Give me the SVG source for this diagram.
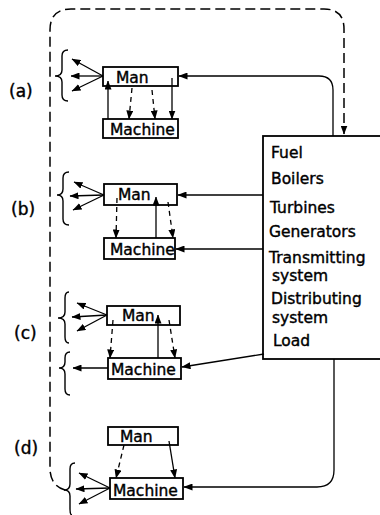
<svg xmlns="http://www.w3.org/2000/svg" width="380" height="515" viewBox="0 0 380 515">
<defs>
<marker id="ah" markerUnits="userSpaceOnUse" markerWidth="9" markerHeight="7" refX="8.5" refY="3.5" orient="auto">
<path d="M0,0 L9,3.5 L0,7 z" fill="#000"/>
</marker>
<style>
text{font-family:"DejaVu Sans","Liberation Sans",sans-serif;fill:#000;stroke:#000;stroke-width:0.4}
.t{font-size:15.5px}
.lbl{font-size:17px}
.box{fill:none;stroke:#000;stroke-width:1.8}
.ln{fill:none;stroke:#000;stroke-width:1.3}
.arr{marker-end:url(#ah)}
.dsh{stroke-dasharray:5,4}
.big{fill:none;stroke:#000;stroke-width:1.5;stroke-dasharray:10,5}
.br{fill:none;stroke:#000;stroke-width:1.4}
</style>
</defs>
<rect width="380" height="515" fill="#fff"/>

<g id="connectors">
<path class="big arr" d="M65,490 Q51,486 50,470 L50,30 Q50,9 71,9 L324,9 Q344,9 344,29 L344,134"/>
<path class="ln arr" d="M333,136 V90 Q333,76 319,76 H179"/>
<path class="ln arr" d="M263,195 H178"/>
<path class="ln arr" d="M263,249 H176"/>
<path class="ln arr" d="M264,354 L182,367"/>
<path class="ln arr" d="M334,359 V470 Q334,487 317,487 H184"/>
<!-- fans -->
<path class="ln arr" d="M103,76 L72,59"/>
<path class="ln arr" d="M103,76 L71,76"/>
<path class="ln arr" d="M103,76 L72,91"/>
<path class="ln arr" d="M104,195 L74,182"/>
<path class="ln arr" d="M104,195 L70,196"/>
<path class="ln arr" d="M104,195 L73,210"/>
<path class="ln arr" d="M107,315 L77,303"/>
<path class="ln arr" d="M107,315 L72,317"/>
<path class="ln arr" d="M107,315 L77,331"/>
<path class="ln arr" d="M108,368 H73"/>
<path class="ln arr" d="M110,488 L79,473"/>
<path class="ln arr" d="M110,488 L76,489"/>
<path class="ln arr" d="M110,488 L79,504"/>
<!-- (a) internal -->
<path class="ln arr" d="M108,119 V81"/>
<path class="ln dsh arr" d="M132,88 L129,119"/>
<path class="ln dsh arr" d="M152,90 L155,119"/>
<path class="ln arr" d="M172,78 V119"/>
<!-- (b) internal -->
<path class="ln dsh arr" d="M117,198 L116,238"/>
<path class="ln arr" d="M156,238 V197"/>
<path class="ln dsh arr" d="M168,202 L173,238"/>
<!-- (c) internal -->
<path class="ln dsh arr" d="M113,320 L110,358"/>
<path class="ln arr" d="M158,358 V315"/>
<path class="ln dsh arr" d="M169,320 L175,358"/>
<!-- (d) internal -->
<path class="ln dsh arr" d="M124,445 L116,478"/>
<path class="ln arr" d="M169,441 L175,478"/>
</g>

<g id="braces">
<path class="br" d="M68,50 Q62,50 62,56 L62,70 Q62,76 55,76 Q62,76 62,82 L62,95 Q62,101 68,101"/>
<path class="br" d="M69,172 Q63,172 63,178 L63,189 Q63,195 57,195 Q63,195 63,201 L63,219 Q63,225 69,225"/>
<path class="br" d="M69,292 Q65,292 65,298 L65,312 Q65,318 58,318 Q65,318 65,324 L65,337 Q65,343 69,343"/>
<path class="br" d="M70,352 Q65,352 65,358 L65,362 Q65,368 59,368 Q65,368 65,374 L65,389 Q65,395 70,395"/>
<path class="br" d="M75,463 Q70,463 70,469 L70,484 Q70,490 64,490 Q70,490 70,496 L70,509 Q70,515 72,515"/>
</g>

<g id="labels">
<text class="lbl" x="9" y="97">(a)</text>
<text class="lbl" x="11" y="215">(b)</text>
<text class="lbl" x="14" y="339">(c)</text>
<text class="lbl" x="14" y="454">(d)</text>
</g>

<g id="man-a"><rect class="box" x="103" y="67" width="75" height="19"/><text class="t" x="116" y="83">Man</text></g>
<g id="machine-a"><rect class="box" x="103" y="119" width="75" height="19"/><text class="t" x="110" y="135">Machine</text></g>
<g id="man-b"><rect class="box" x="104" y="184" width="73" height="21"/><text class="t" x="118" y="200">Man</text></g>
<g id="machine-b"><rect class="box" x="104" y="238" width="71" height="21"/><text class="t" x="110" y="255">Machine</text></g>
<g id="man-c"><rect class="box" x="107" y="306" width="73" height="19"/><text class="t" x="122" y="321">Man</text></g>
<g id="machine-c"><rect class="box" x="108" y="358" width="73" height="21"/><text class="t" x="111" y="375">Machine</text></g>
<g id="man-d"><rect class="box" x="108" y="427" width="70" height="18"/><text class="t" x="120" y="442">Man</text></g>
<g id="machine-d"><rect class="box" x="110" y="478" width="73" height="21"/><text class="t" x="113" y="496">Machine</text></g>

<g id="plant">
<rect class="box" x="263" y="136" width="130" height="223"/>
<text class="t" x="271" y="158">Fuel</text>
<text class="t" x="271" y="184">Boilers</text>
<text class="t" x="270" y="213">Turbines</text>
<text class="t" x="269" y="237">Generators</text>
<text class="t" x="269" y="263">Transmitting</text>
<text class="t" x="272" y="281">system</text>
<text class="t" x="271" y="304">Distributing</text>
<text class="t" x="272" y="323">system</text>
<text class="t" x="273" y="346">Load</text>
</g>
</svg>
